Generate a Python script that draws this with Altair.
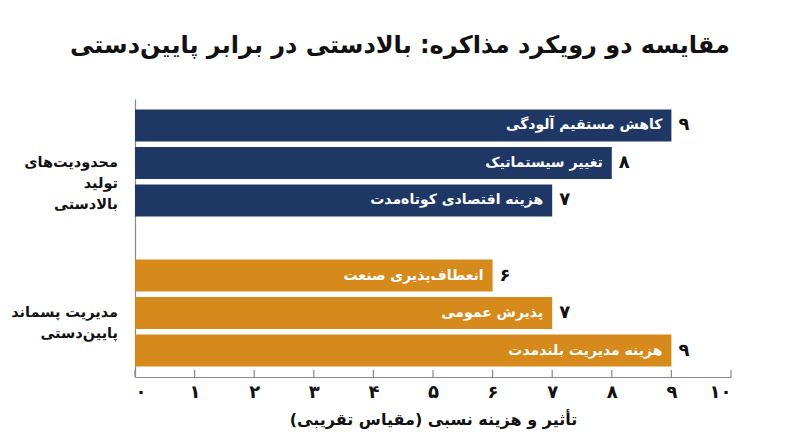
import altair as alt
import pandas as pd

# ---- data ----
categories = ["کاهش مستقیم آلودگی", "تغییر سیستماتیک", "هزینه اقتصادی کوتاه‌مدت",
              "انعطاف‌پذیری صنعت", "پذیرش عمومی", "هزینه مدیریت بلندمدت"]
values = [9, 8, 7, 6, 7, 9]
groups = ["بالادستی", "بالادستی", "بالادستی", "پایین‌دستی", "پایین‌دستی", "پایین‌دستی"]
group_labels = ["محدودیت‌های\nتولید\nبالادستی", "مدیریت پسماند\nپایین‌دستی"]
group_names = ["بالادستی", "پایین‌دستی"]
group_mid = ["تغییر سیستماتیک", "پذیرش عمومی"]
spacer = " "
fa_digits = ["۰", "۱", "۲", "۳", "۴", "۵", "۶", "۷", "۸", "۹", "۱۰"]
ticks = list(range(0, 11))

TITLE = "مقایسه دو رویکرد مذاکره: بالادستی در برابر پایین‌دستی"
XTITLE = "تأثیر و هزینه نسبی (مقیاس تقریبی)"
FONT = "DejaVu Sans"

df = pd.DataFrame({"cat": categories, "value": values, "group": groups,
                   "vlabel": [fa_digits[v] for v in values]})
gdf = pd.DataFrame({"label": group_labels, "mid": group_mid})
tdf = pd.DataFrame({"t": ticks})

W, H = 596, 278
domain_order = categories[:3] + [spacer] + categories[3:]

yscale = alt.Scale(domain=domain_order, paddingInner=0.15, paddingOuter=0.28)
xscale = alt.Scale(domain=[0, 10], nice=False)
color = alt.Color("group:N", scale=alt.Scale(domain=group_names, range=["#1E3765", "#D68A1C"]), legend=None)

label_expr = "[" + ",".join("'" + d + "'" for d in fa_digits) + "][datum.value]"

bars = alt.Chart(df).mark_bar().encode(
    x=alt.X("value:Q", scale=xscale,
            axis=alt.Axis(values=ticks, labelExpr=label_expr, title=XTITLE, ticks=False,
                          grid=False, domainColor="#888888", domainWidth=1.2,
                          labelFontSize=18, labelFontWeight="bold", labelColor="#111111",
                          labelFont=FONT, labelPadding=6,
                          titleFontSize=16, titleFontWeight="bold", titleFont=FONT,
                          titleColor="#111111", titlePadding=10)),
    y=alt.Y("cat:N", scale=yscale, sort=domain_order,
            axis=alt.Axis(labels=False, ticks=False, title=None, grid=False,
                          domainColor="#888888", domainWidth=1.2)),
    color=color,
)

inner = alt.Chart(df).mark_text(align="right", baseline="middle", dx=-9, color="white",
                                fontSize=14, fontWeight="bold", font=FONT).encode(
    x=alt.X("value:Q", scale=xscale), y=alt.Y("cat:N", scale=yscale, sort=domain_order),
    text="cat:N")

outer = alt.Chart(df).mark_text(align="left", baseline="middle", dx=7, color="#111111",
                                fontSize=18, fontWeight="bold", font=FONT).encode(
    x=alt.X("value:Q", scale=xscale), y=alt.Y("cat:N", scale=yscale, sort=domain_order),
    text="vlabel:N")

glab = alt.Chart(gdf).mark_text(align="right", baseline="middle", lineBreak="\n",
                                lineHeight=21, fontSize=14.5, fontWeight="bold",
                                color="#111111", font=FONT).encode(
    x=alt.value(-17), y=alt.Y("mid:N", scale=yscale, sort=domain_order), text="label:N")

tickmarks = alt.Chart(tdf).mark_rule(color="#888888", strokeWidth=1.2).encode(
    x=alt.X("t:Q", scale=xscale), y=alt.value(H - 7), y2=alt.value(H))

chart = alt.layer(bars, inner, outer, glab, tickmarks).properties(
    width=W, height=H,
    title=alt.Title(TITLE, fontSize=24, fontWeight="bold", font=FONT, color="#111111",
                    anchor="middle", dx=-33, offset=41),
    autosize=alt.AutoSizeParams(type="none"),
    padding={"left": 127, "top": 91, "right": 61, "bottom": 62},
).configure_view(stroke=None)

chart.save("out.html", embed_options={"renderer": "svg", "actions": False})
